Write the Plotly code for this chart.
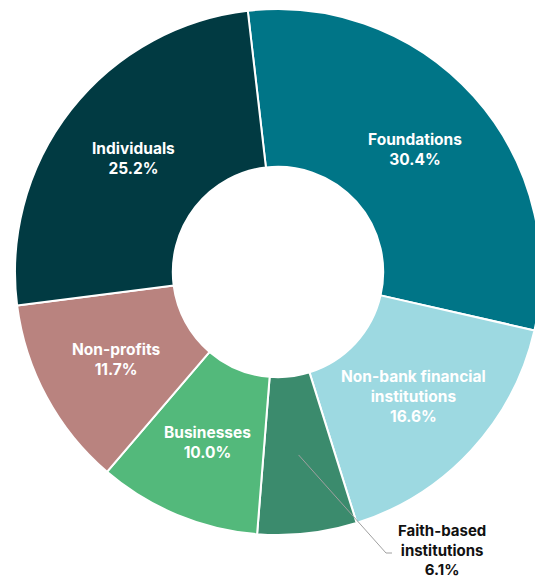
import math
import plotly.graph_objects as go

labels = ["Foundations", "Non-bank financial institutions", "Faith-based institutions",
          "Businesses", "Non-profits", "Individuals"]
display = ["Foundations", "Non-bank financial<br>institutions", "Faith-based<br>institutions",
           "Businesses", "Non-profits", "Individuals"]
values = [30.4, 16.6, 6.1, 10.0, 11.7, 25.2]
colors = ["#007587", "#9dd9e1", "#3b8b6d", "#53b97b", "#b9837f", "#013a42"]

# page body has an 8px margin; work in screen pixels and convert
OFF = 8
W, H = 543 - OFF, 580 - OFF
ROT = -6.6
HOLE = 0.40
FONT = "Inter"
FS = 15.5


def fx(sx):
    return (sx - OFF) / W


def fy(sy):
    return 1 - (sy - OFF) / H


dom_x = [fx(15), fx(541)]
dom_y = [fy(535), fy(9)]

fig = go.Figure(go.Pie(
    labels=labels, values=values, sort=False, direction="clockwise",
    rotation=ROT, hole=HOLE,
    marker=dict(colors=colors, line=dict(color="white", width=2)),
    textinfo="none", hoverinfo="label+percent",
    domain=dict(x=dom_x, y=dom_y), showlegend=False,
))

# geometry (screen pixels) derived from domain
cx = (15 + 541) / 2
cy = (9 + 535) / 2
R = min(541 - 15, 535 - 9) / 2
rmid = R * (1 + HOLE) / 2

total = sum(values)
cum = 0.0
anns = []
shapes = []


def add_label(text, x, y, color, size):
    anns.append(dict(x=fx(x), y=fy(y), xref="paper", yref="paper",
                     text=text, showarrow=False, xanchor="center", yanchor="middle",
                     align="center", borderpad=0,
                     font=dict(family=FONT, size=size, color=color, weight="bold")))


for i, v in enumerate(values):
    a0 = ROT + cum / total * 360
    cum += v
    a1 = ROT + cum / total * 360
    mid = math.radians((a0 + a1) / 2)
    px = cx + rmid * math.sin(mid)
    py = cy - rmid * math.cos(mid)
    text = f"{display[i]}<br>{v / total * 100:.1f}%"
    if labels[i] == "Faith-based institutions":
        add_label(text, 442, 550, "#111111", 15)
        ex, ey = 386, 553
        path = (f"M {fx(px)},{fy(py)} L {fx(ex)},{fy(ey)} "
                f"L {fx(ex + 6)},{fy(ey)}")
        shapes.append(dict(type="path", xref="paper", yref="paper", path=path,
                           line=dict(color="#a0a0a0", width=1)))
    else:
        add_label(text, px, py, "white", FS)

fig.update_layout(
    width=W, height=H, margin=dict(l=0, r=0, t=0, b=0),
    paper_bgcolor="white", plot_bgcolor="white",
    annotations=anns, shapes=shapes,
)
fig.write_html("out.html")
